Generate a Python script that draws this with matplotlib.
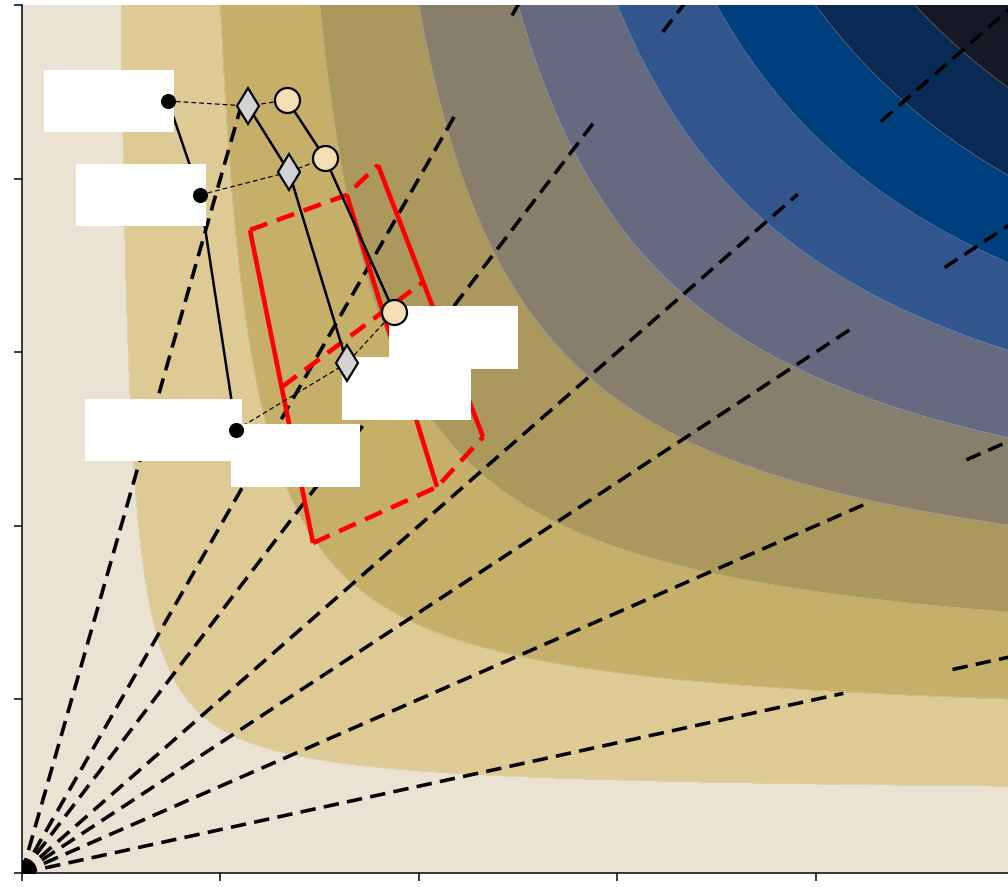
import numpy as np
import matplotlib
matplotlib.use("Agg")
import matplotlib.pyplot as plt
from matplotlib.offsetbox import AnnotationBbox, DrawingArea
from matplotlib.patches import Rectangle

# contour levels of the harmonic mean 2xy/(x+y) and band colours
levels = [0.0, 0.909, 1.667, 2.308, 2.857, 3.333, 3.75, 4.118, 4.444, 4.737, 5.5]
band_colors = ["#EAE3D3", "#DDCA94", "#C6AF69", "#AB985C", "#877F6B",
               "#656A80", "#32558E", "#003F7D", "#0A2A56", "#141925"]

# rays y = s*x, each with a gap (x start, x end) where a label sat
ray_slopes = [0.25, 0.5, 0.75, 1.0, 1.5, 2.0, 4.0]
gap_start = [4.14, 4.24, 4.18, 3.91, 2.89, 2.18, 1.10]
gap_end = [4.69, 4.76, 4.65, 4.33, 3.23, 2.47, 1.26]

# three series of points
dots_x = [0.736, 0.897, 1.079]
dots_y = [4.447, 3.906, 2.552]
diam_x = [1.139, 1.346, 1.638]
diam_y = [4.418, 4.038, 2.938]
circ_x = [1.336, 1.527, 1.875]
circ_y = [4.453, 4.119, 3.232]

# red region: solid and dashed edges
red_solid = [
    [(1.149, 3.704), (1.467, 1.901)],
    [(1.637, 3.906), (2.092, 2.224)],
    [(1.794, 4.078), (2.324, 2.512)],
]
red_dashed = [
    [(1.149, 3.704), (1.637, 3.906), (1.794, 4.078)],
    [(1.467, 1.901), (2.092, 2.224), (2.324, 2.512)],
    [(1.310, 2.800), (2.021, 3.404)],
]

# blank label boxes: (x, y, side, width px, height px)
label_boxes = [
    (dots_x[0], dots_y[0], "left", 130, 62),
    (dots_x[1], dots_y[1], "left", 130, 62),
    (dots_x[2], dots_y[2], "left", 157, 62),
    (dots_x[2], dots_y[2], "right", 129, 63),
    (diam_x[2], diam_y[2], "right", 129, 63),
    (circ_x[2], circ_y[2], "right", 129, 63),
]

fig = plt.figure(figsize=(1008 / 72, 887 / 72), dpi=72)
ax = fig.add_axes([22 / 1008, 14 / 887, 992 / 1008, 868 / 887])

gx = np.linspace(0.001, 5.3, 700)
X, Y = np.meshgrid(gx, gx)
Z = 2 * X * Y / (X + Y)
ax.contourf(X, Y, Z, levels=levels, colors=band_colors, zorder=0)
ax.contour(X, Y, Z, levels=levels[1:-1], colors="#e0e0e0", linewidths=0.6,
           alpha=0.5, zorder=0.5)

for s, g0, g1 in zip(ray_slopes, gap_start, gap_end):
    xend = min(5.4, 5.4 / s)
    for xa, xb in [(0.0, g0), (g1, xend)]:
        ax.plot([xa, xb], [s * xa, s * xb], color="black", lw=3.6,
                dashes=(4.3, 2.3), zorder=2)

ax.plot(0, 0, "o", color="black", ms=26, zorder=2)

for seg in red_solid:
    xs, ys = zip(*seg)
    ax.plot(xs, ys, color="red", lw=4.6, zorder=3, solid_capstyle="butt")
for seg in red_dashed:
    xs, ys = zip(*seg)
    ax.plot(xs, ys, color="red", lw=4.6, dashes=(4, 2.2), zorder=3)

# series lines
ax.plot(dots_x, dots_y, color="black", lw=2.5, zorder=4)
ax.plot(diam_x, diam_y, color="black", lw=2.5, zorder=4)
ax.plot(circ_x, circ_y, color="black", lw=2.5, zorder=4)
for i in range(3):
    ax.plot([dots_x[i], diam_x[i], circ_x[i]], [dots_y[i], diam_y[i], circ_y[i]],
            color="black", lw=1.2, dashes=(4, 2.5), zorder=4)

for x, y, side, w, h in label_boxes:
    da = DrawingArea(w, h, 0, 0)
    da.add_artist(Rectangle((0, 0), w, h, facecolor="white", edgecolor="none"))
    if side == "left":
        ab = AnnotationBbox(da, (x, y), xybox=(6, 0), boxcoords="offset points",
                            box_alignment=(1, 0.5), frameon=False, pad=0)
    else:
        ab = AnnotationBbox(da, (x, y), xybox=(-5, 6), boxcoords="offset points",
                            box_alignment=(0, 1), frameon=False, pad=0)
    ab.set_zorder(5)
    ax.add_artist(ab)

ax.plot(dots_x, dots_y, "o", color="black", ms=14, zorder=6)
ax.plot(diam_x, diam_y, "d", ms=26, mfc="#D3D3D3", mec="black", mew=2.2, zorder=6)
ax.plot(circ_x, circ_y, "o", ms=25, mfc="#F5DEB3", mec="black", mew=2.2, zorder=6)

ax.set_xlim(0, 5)
ax.set_ylim(0, 5)
ax.set_xticks([0, 1, 2, 3, 4, 5])
ax.set_yticks([0, 1, 2, 3, 4, 5])
ax.tick_params(direction="out", length=8, width=1.5, labelleft=False,
               labelbottom=False)
ax.spines["top"].set_visible(False)
ax.spines["right"].set_visible(False)
ax.spines["left"].set_linewidth(1.5)
ax.spines["bottom"].set_linewidth(1.5)

fig.savefig("out.png", dpi=72)
